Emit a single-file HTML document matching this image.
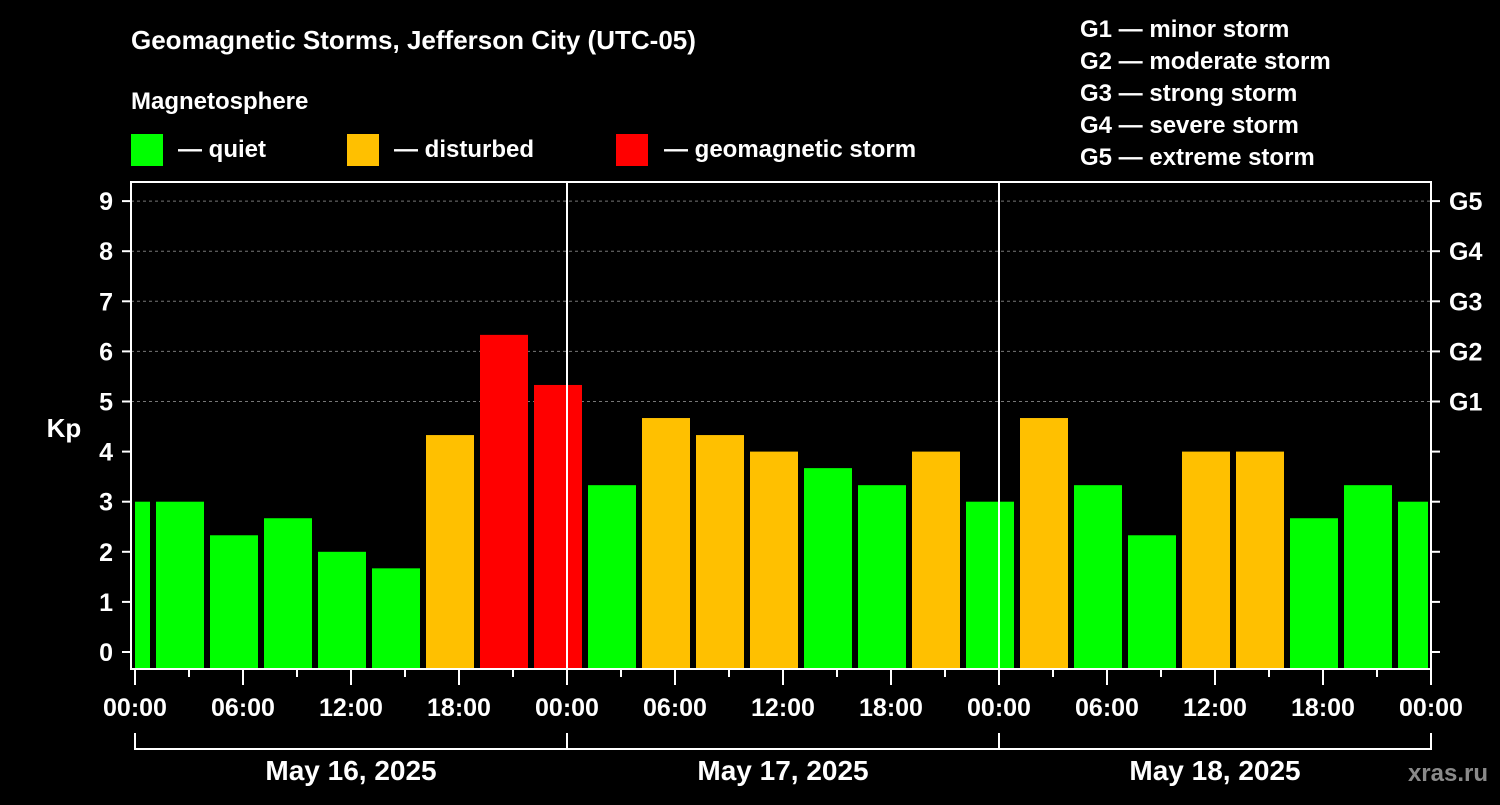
<!DOCTYPE html>
<html><head><meta charset="utf-8"><style>
body{margin:0;background:#000;width:1500px;height:800px;overflow:hidden;font-family:"Liberation Sans",sans-serif}
svg text{font-family:"Liberation Sans",sans-serif;font-weight:bold;fill:#fff}
</style></head><body>
<svg id="c" width="1500" height="800">
<text x="131" y="49" font-size="26">Geomagnetic Storms, Jefferson City (UTC-05)</text>
<text x="131" y="109" font-size="24">Magnetosphere</text>
<rect x="131" y="134" width="32" height="32" fill="#00ff00"/>
<text x="178" y="157" font-size="24">— quiet</text>
<rect x="347" y="134" width="32" height="32" fill="#ffc000"/>
<text x="394" y="157" font-size="24">— disturbed</text>
<rect x="616" y="134" width="32" height="32" fill="#ff0000"/>
<text x="664" y="157" font-size="24">— geomagnetic storm</text>
<g font-size="24">
<text x="1080" y="37">G1 — minor storm</text>
<text x="1080" y="69">G2 — moderate storm</text>
<text x="1080" y="101">G3 — strong storm</text>
<text x="1080" y="133">G4 — severe storm</text>
<text x="1080" y="165">G5 — extreme storm</text>
</g>
<text x="64" y="437" font-size="26" text-anchor="middle">Kp</text>
<text x="1488" y="781" font-size="24" text-anchor="end" fill="#888" style="fill:#8a8a8a">xras.ru</text>
<g id="grid"></g><g id="bars"></g><g id="axes"></g>
</svg>
<script>
const kpValues=[3.0,3.0,2.33,2.67,2.0,1.67,4.33,6.33,5.33,3.33,4.67,4.33,4.0,3.67,3.33,4.0,3.0,4.67,3.33,2.33,4.0,4.0,2.67,3.33,3.0];
const barStartHours=-2; // first bar start relative to May 16 00:00
const yTicks=[0,1,2,3,4,5,6,7,8,9];
const gLabels=["G1","G2","G3","G4","G5"];
const gLevels=[5,6,7,8,9];
const xTickLabels=["00:00","06:00","12:00","18:00","00:00","06:00","12:00","18:00","00:00","06:00","12:00","18:00","00:00"];
const dateLabels=["May 16, 2025","May 17, 2025","May 18, 2025"];
const NS="http://www.w3.org/2000/svg";
const L=131,R=1431,T=182,B=669,X0=135,PXH=18;
const xS=h=>X0+h*PXH;
const yS=k=>652-k*50.1;
function mk(tag,attrs,parent,text){const e=document.createElementNS(NS,tag);for(const k in attrs)e.setAttribute(k,attrs[k]);if(text!==undefined)e.textContent=text;document.getElementById(parent).appendChild(e);return e;}
const col=k=>k>=5?"#ff0000":(k>=4?"#ffc000":"#00ff00");
// grid
gLevels.forEach(k=>{const e=mk("line",{x1:L,x2:R,y1:yS(k),y2:yS(k),stroke:"#777","stroke-dasharray":"3,3","stroke-width":1},"grid");

});
// bars
kpValues.forEach((v,i)=>{let x1=xS(barStartHours+i*3)+3,x2=xS(barStartHours+(i+1)*3)-3;x1=Math.max(x1,X0);x2=Math.min(x2,R-3);
const e=mk("rect",{x:x1,y:yS(v),width:x2-x1,height:B-1-yS(v),fill:col(v)},"bars");

});
// frame
const f=mk("rect",{x:L,y:T,width:R-L,height:B-T,fill:"none",stroke:"#fff","stroke-width":2},"axes");


[1,2].forEach(d=>{const e=mk("line",{x1:xS(24*d),x2:xS(24*d),y1:T,y2:B,stroke:"#fff","stroke-width":2},"axes");

});
yTicks.forEach(k=>{mk("line",{x1:L-9,x2:L,y1:yS(k),y2:yS(k),stroke:"#fff","stroke-width":2},"axes");
mk("line",{x1:R,x2:R+9,y1:yS(k),y2:yS(k),stroke:"#fff","stroke-width":2},"axes");
const t=mk("text",{x:L-18,y:yS(k)+9,"font-size":25,"text-anchor":"end"},"axes",k);

});
gLevels.forEach((k,i)=>{const t=mk("text",{x:R+18,y:yS(k)+9,"font-size":25},"axes",gLabels[i]);

});
for(let h=0;h<=72;h+=3){const major=h%6===0;mk("line",{x1:xS(h),x2:xS(h),y1:B,y2:B+(major?16:8),stroke:"#fff","stroke-width":2},"axes");}
xTickLabels.forEach((s,i)=>{const t=mk("text",{x:xS(i*6),y:716,"font-size":25,"text-anchor":"middle"},"axes",s);

});
mk("path",{d:`M${xS(0)},733V749H${xS(72)}V733M${xS(24)},733V749M${xS(48)},733V749`,fill:"none",stroke:"#fff","stroke-width":2},"axes");
dateLabels.forEach((s,i)=>{const t=mk("text",{x:xS(i*24+12),y:780,"font-size":28,"text-anchor":"middle"},"axes",s);

});
</script>
</body></html>
